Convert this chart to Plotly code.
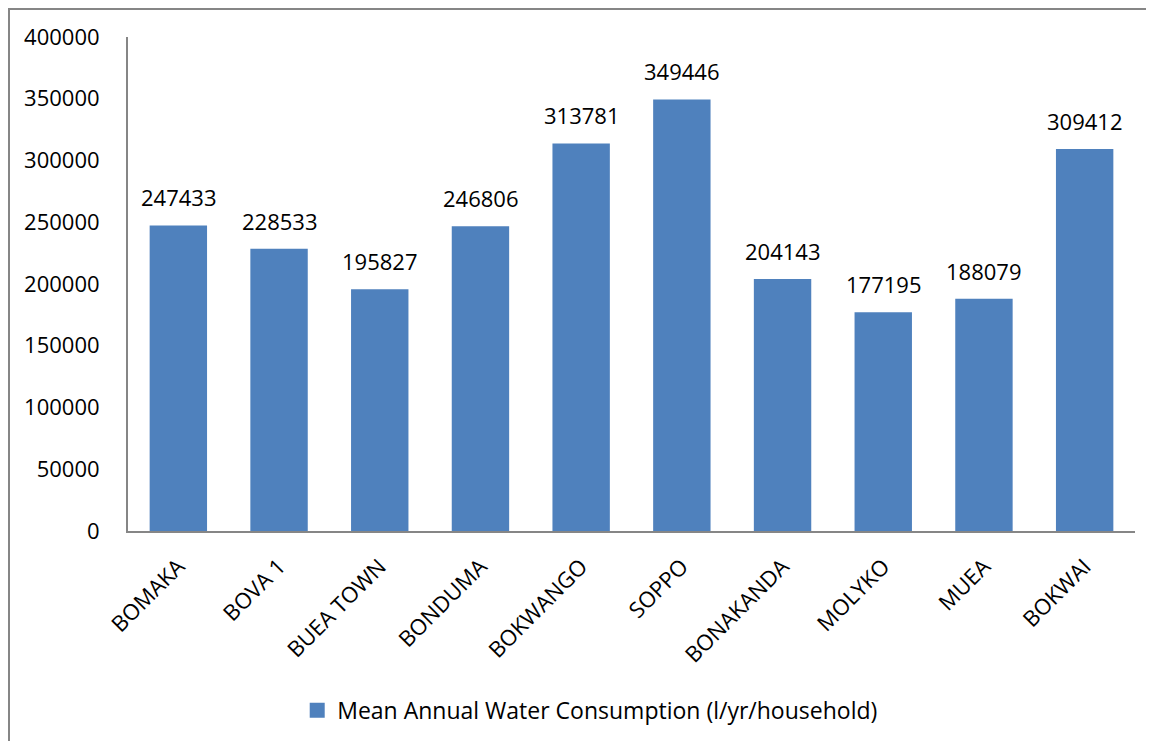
import plotly.graph_objects as go

categories = ["BOMAKA", "BOVA 1", "BUEA TOWN", "BONDUMA", "BOKWANGO", "SOPPO",
              "BONAKANDA", "MOLYKO", "MUEA", "BOKWAI"]
values = [247433, 228533, 195827, 246806, 313781, 349446, 204143, 177195, 188079, 309412]
series_name = "Mean Annual Water Consumption (l/yr/household)"
y_ticks = [0, 50000, 100000, 150000, 200000, 250000, 300000, 350000, 400000]

FONT = "Open Sans"
BAR = "#4F81BD"
fig = go.Figure()
fig.add_trace(go.Bar(
    x=categories, y=values, name=series_name,
    marker=dict(color=BAR, line=dict(width=0)),
    showlegend=False,
))
# legend entry with a larger square swatch
fig.add_trace(go.Scatter(
    x=[None], y=[None], mode="markers", name=series_name,
    marker=dict(symbol="square", size=15, color=BAR), showlegend=True,
))

for c, v in zip(categories, values):
    fig.add_annotation(x=c, y=v, text=str(v), showarrow=False,
                       yanchor="bottom", yshift=11,
                       font=dict(family=FONT, size=22, color="black"))

fig.update_layout(
    width=1154, height=741,
    margin=dict(l=120, r=27, t=29, b=218, autoexpand=False),
    paper_bgcolor="white", plot_bgcolor="white",
    bargap=0.43,
    font=dict(family=FONT, size=22, color="black"),
    showlegend=True,
    legend=dict(orientation="h", x=0.459, xanchor="center", y=-0.363, yanchor="middle",
                font=dict(family=FONT, size=23, color="black"), itemwidth=30,
                itemsizing="trace"),
    xaxis=dict(showline=True, linecolor="#868686", linewidth=2, tickangle=-45,
               ticks="outside", ticklen=12, tickcolor="rgba(0,0,0,0)",
               showgrid=False, tickfont=dict(size=22), automargin=False),
    yaxis=dict(range=[0, 400000], tickvals=y_ticks, ticktext=[str(t) for t in y_ticks],
               showline=True, linecolor="#868686",
               linewidth=2, showgrid=False, ticks="outside", ticklen=22,
               tickcolor="rgba(0,0,0,0)", tickfont=dict(size=22), zeroline=False,
               automargin=False),
)

# outer chart frame (top and left edges visible)
fig.add_shape(type="rect", xref="paper", yref="paper",
              x0=-119 / 1007, x1=1.2, y0=-0.6, y1=1 + 28 / 493.7,
              line=dict(color="#868686", width=2), fillcolor="rgba(0,0,0,0)", layer="below")

fig.write_html("out.html")
